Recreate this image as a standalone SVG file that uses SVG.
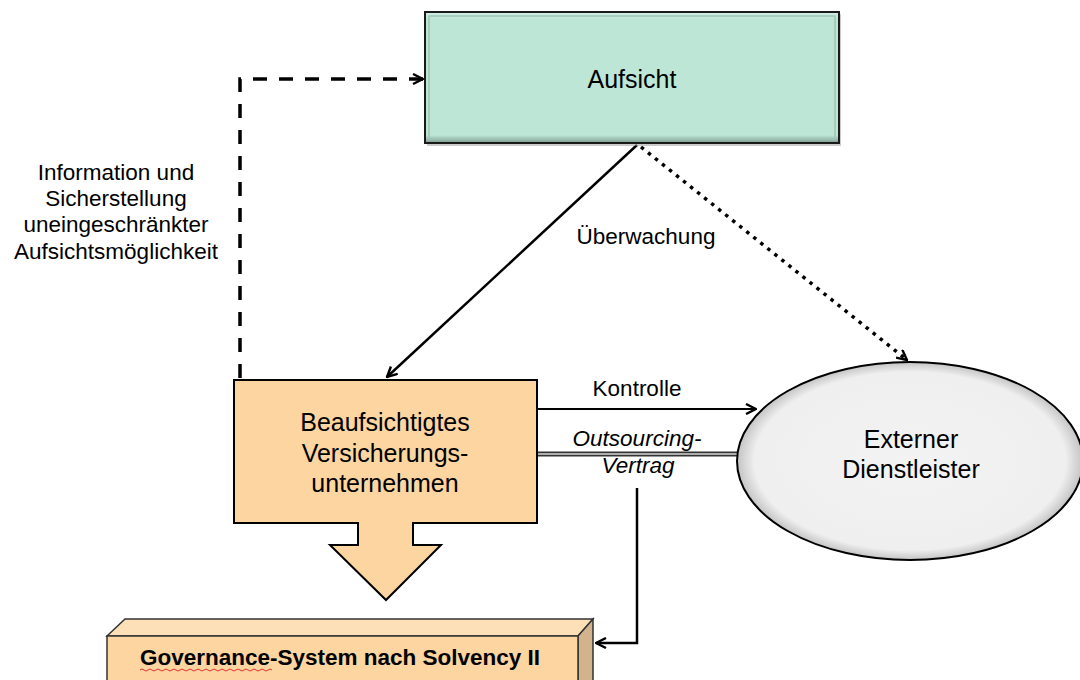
<svg xmlns="http://www.w3.org/2000/svg" width="1080" height="680" viewBox="0 0 1080 680">
  <style>
    .lbl { font-family: "Liberation Sans", Arial, sans-serif; font-size: 22.5px; fill: #000; text-anchor: middle; }
    .node { font-family: "Liberation Sans", Arial, sans-serif; font-size: 25px; fill: #000; text-anchor: middle; }
    .bold { font-family: "Liberation Sans", Arial, sans-serif; font-size: 22.5px; font-weight: bold; fill: #000; text-anchor: middle; }
    .conn { fill: none; stroke: #000; stroke-width: 2.5; }
    .dashed { fill: none; stroke: #000; stroke-width: 3.5; stroke-dasharray: 14,12; }
    .dotted { fill: none; stroke: #000; stroke-width: 3.5; stroke-dasharray: 3.5,5.5; }
    .thin { fill: none; stroke: #000; stroke-width: 2; }
  </style>
  <defs>
    <marker id="open" viewBox="0 0 12 12" refX="11" refY="6" markerWidth="12" markerHeight="12" markerUnits="userSpaceOnUse" orient="auto">
      <path d="M1,1 L11,6 L1,11" fill="none" stroke="#000" stroke-width="2.4"/>
    </marker>
    <radialGradient id="ellGrad" cx="0.5" cy="0.5" r="0.5">
      <stop offset="0" stop-color="#f3f3f3"/>
      <stop offset="0.9" stop-color="#efefef"/>
      <stop offset="1" stop-color="#c4c4c4"/>
    </radialGradient>
    <linearGradient id="bevelV" x1="0" y1="0" x2="0" y2="1">
      <stop offset="0" stop-color="#d6f0e5"/>
      <stop offset="0.05" stop-color="#bee6d6"/>
      <stop offset="0.94" stop-color="#bee6d6"/>
      <stop offset="1" stop-color="#7d9a8f"/>
    </linearGradient>
  </defs>

  <rect width="1080" height="680" fill="#fff"/>

  <g id="connectors">
    <path class="dashed" d="M240,378 V79 H423" marker-end="url(#open)"/>
    <line class="conn" x1="637" y1="145" x2="387" y2="377" marker-end="url(#open)"/>
    <line class="dotted" x1="641" y1="147" x2="907" y2="360" marker-end="url(#open)"/>
    <line class="thin" x1="537" y1="409" x2="756" y2="409" marker-end="url(#open)"/>
    <line x1="537" y1="454" x2="740" y2="454" stroke="#333" stroke-width="5"/>
    <line x1="537" y1="454" x2="740" y2="454" stroke="#d8d8d8" stroke-width="1.6"/>
    <path class="conn" d="M637,488 V643 H596" marker-end="url(#open)"/>
    <text class="lbl" x="646" y="244">Überwachung</text>
    <text class="lbl" x="637" y="396">Kontrolle</text>
    <text class="lbl" x="637" y="446" font-style="italic">Outsourcing-</text>
    <text class="lbl" x="638" y="473" font-style="italic">Vertrag</text>
    <text class="lbl" x="116" y="180">Information und</text>
    <text class="lbl" x="116" y="206">Sicherstellung</text>
    <text class="lbl" x="116" y="232">uneingeschränkter</text>
    <text class="lbl" x="116" y="259">Aufsichtsmöglichkeit</text>
  </g>

  <g id="aufsicht">
    <rect x="427" y="14" width="414" height="132" fill="#9a9a9a" opacity="0.5"/>
    <rect x="425" y="12" width="414" height="131" fill="url(#bevelV)" stroke="#1a1a1a" stroke-width="2"/>
    <rect x="429" y="16" width="406" height="123" fill="none" stroke="#9fc4b6" stroke-width="1.5"/>
    <text class="node" x="632" y="88">Aufsicht</text>
  </g>

  <g id="versicherungsunternehmen">
    <path d="M234,380 H537 V523 H413 V545 H441 L386,600 L330,545 H358 V523 H234 Z" fill="#fcd5a1" stroke="#000" stroke-width="2"/>
    <text class="node" x="385" y="431">Beaufsichtigtes</text>
    <text class="node" x="385" y="462">Versicherungs-</text>
    <text class="node" x="385" y="492">unternehmen</text>
  </g>

  <g id="dienstleister">
    <ellipse cx="910" cy="461" rx="173" ry="99" fill="url(#ellGrad)" stroke="#000" stroke-width="2"/>
    <text class="node" x="911" y="448">Externer</text>
    <text class="node" x="911" y="478">Dienstleister</text>
  </g>

  <g id="governance">
    <polygon points="107,636 125,619 593,619 578,636" fill="#fde0b8" stroke="#333" stroke-width="1.5"/>
    <polygon points="578,636 593,619 593,690 578,690" fill="#d2b38c" stroke="#333" stroke-width="1.5"/>
    <rect x="107" y="636" width="471" height="60" fill="#fcd5a1" stroke="#333" stroke-width="1.5"/>
    <text class="bold" x="340" y="665">Governance-System nach Solvency II</text>
    <path d="M140,670 q2,-2 4,0 t4,0 t4,0 t4,0 t4,0 t4,0 t4,0 t4,0 t4,0 t4,0 t4,0 t4,0 t4,0 t4,0 t4,0 t4,0 t4,0 t4,0 t4,0 t4,0 t4,0 t4,0 t4,0 t4,0 t4,0 t4,0 t4,0 t4,0 t4,0 t4,0 t4,0 t4,0 t4,0" fill="none" stroke="#e03030" stroke-width="1"/>
  </g>
</svg>
